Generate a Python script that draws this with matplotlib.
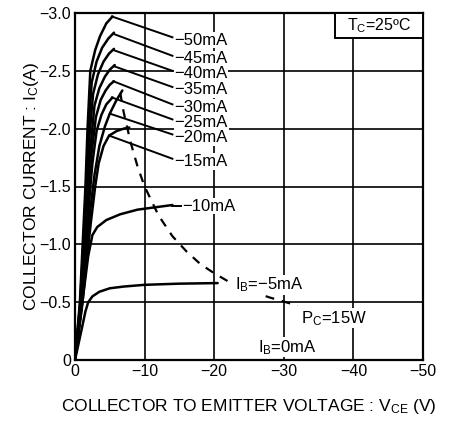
import matplotlib
matplotlib.use("Agg")
import matplotlib.pyplot as plt
from matplotlib.patches import Rectangle

plt.rcParams['font.family'] = ['Liberation Sans', 'DejaVu Sans']
plt.rcParams['mathtext.fontset'] = 'custom'
plt.rcParams['mathtext.rm'] = 'Liberation Sans'
plt.rcParams['mathtext.it'] = 'Liberation Sans'

# ---- data (V in volts, I in amperes) ----
ib_labels = ['−50mA', '−45mA', '−40mA', '−35mA', '−30mA', '−25mA', '−20mA', '−15mA']

v50 = [0, -0.7, -1.1, -1.5, -1.8, -2.2, -2.9, -3.6, -4.5, -5.4]
i50 = [0, -0.5, -1.0, -1.5, -2.0, -2.5, -2.68, -2.8, -2.91, -2.97]
v45 = [0, -0.75, -1.2, -1.6, -1.95, -2.4, -3.1, -3.9, -4.8, -5.6]
i45 = [0, -0.5, -1.0, -1.5, -2.0, -2.4, -2.58, -2.7, -2.78, -2.83]
v40 = [0, -0.8, -1.25, -1.7, -2.1, -2.6, -3.3, -4.1, -4.9, -5.6]
i40 = [0, -0.5, -1.0, -1.5, -1.95, -2.3, -2.47, -2.58, -2.65, -2.69]
v35 = [0, -0.85, -1.3, -1.8, -2.25, -2.8, -3.5, -4.3, -5.0, -5.7]
i35 = [0, -0.5, -1.0, -1.45, -1.85, -2.2, -2.35, -2.45, -2.51, -2.55]
v30 = [0, -0.9, -1.4, -1.9, -2.4, -3.0, -3.7, -4.4, -5.0, -5.6]
i30 = [0, -0.5, -0.95, -1.4, -1.8, -2.1, -2.25, -2.33, -2.38, -2.41]
v25 = [0, -0.95, -1.5, -2.0, -2.5, -3.1, -3.8, -4.5, -5.4]
i25 = [0, -0.5, -0.95, -1.35, -1.7, -1.98, -2.12, -2.21, -2.27]
v20 = [0, -1.0, -1.6, -2.2, -2.8, -3.5, -4.3, -5.0, -5.9, -6.8]
i20 = [0, -0.5, -0.93, -1.3, -1.6, -1.85, -2.02, -2.13, -2.24, -2.33]
v15 = [0, -1.05, -1.7, -2.3, -2.9, -3.4, -4.1, -4.9, -6.0, -7.0, -7.8]
i15 = [0, -0.48, -0.88, -1.2, -1.5, -1.7, -1.85, -1.94, -1.98, -2.0, -2.01]
v10 = [0, -1.1, -1.9, -2.5, -3.2, -4.5, -6.5, -9.0, -11.5, -14.0]
i10 = [0, -0.52, -0.9, -1.08, -1.15, -1.21, -1.26, -1.3, -1.32, -1.34]
v5 = [0, -0.9, -1.5, -1.9, -2.5, -3.5, -5.0, -7.0, -10.0, -15.0, -20.5]
i5 = [0, -0.25, -0.42, -0.5, -0.55, -0.59, -0.62, -0.635, -0.65, -0.66, -0.665]
v0 = [0, -30]
i0 = [0, 0]

# Pc = 15 W dissipation limit
v_pc = [-6.5, -7, -8, -9, -10, -12, -14, -16, -18, -20, -22, -25, -28, -32]
i_pc = [-2.31, -2.14, -1.88, -1.67, -1.5, -1.25, -1.07, -0.94, -0.83, -0.75, -0.68, -0.6, -0.54, -0.47]

# leader line start points (on curves) and label anchor points
lead_v = [-5.3, -5.5, -5.5, -5.6, -5.5, -5.3, -5.0, -4.9]
lead_i = [-2.97, -2.82, -2.68, -2.54, -2.41, -2.27, -2.13, -1.94]
lab_v = [-14.0] * 8
lab_i = [-2.79, -2.63, -2.50, -2.36, -2.21, -2.08, -1.95, -1.74]

x_ticks = [0, -10, -20, -30, -40, -50]
x_ticklabels = ['0', '−10', '−20', '−30', '−40', '−50']
y_ticks = [0, -0.5, -1.0, -1.5, -2.0, -2.5, -3.0]
y_ticklabels = ['0', '−0.5', '−1.0', '−1.5', '−2.0', '−2.5', '−3.0']

# ---- figure ----
fig = plt.figure(figsize=(4.58, 4.21), dpi=100)
ax = fig.add_axes([75/458, 61/421, 348/458, 347/421])

ax.set_xlim(0, -50)
ax.set_ylim(0, -3.0)
ax.set_xticks(x_ticks)
ax.set_xticklabels(x_ticklabels, fontsize=11.5)
ax.set_yticks(y_ticks)
ax.set_yticklabels(y_ticklabels, fontsize=11.5)
ax.tick_params(length=0, pad=3)
ax.grid(True, color='black', linewidth=1.2, zorder=0)
for s in ax.spines.values():
    s.set_linewidth(1.6)

curves = [(v50, i50), (v45, i45), (v40, i40), (v35, i35), (v30, i30),
          (v25, i25), (v20, i20), (v15, i15), (v10, i10), (v5, i5), (v0, i0)]
for v, i in curves:
    ax.plot(v, i, color='black', linewidth=1.8, solid_capstyle='round', zorder=3)

ax.plot(v_pc, i_pc, color='black', linewidth=1.6, linestyle=(0, (4, 3.5)), zorder=3)

for k in range(len(ib_labels)):
    ax.plot([lead_v[k], lab_v[k]], [lead_i[k], lab_i[k]], color='black', linewidth=1.4, zorder=3)
    ax.text(lab_v[k] - 0.3, lab_i[k] + 0.025, ib_labels[k], fontsize=12, ha='left', va='center',
            zorder=4, bbox=dict(facecolor='white', edgecolor='none', pad=0.5))

box = dict(facecolor='white', edgecolor='none', pad=0.5)
ax.plot([-14.0, -15.2], [-1.335, -1.335], color='black', linewidth=1.4, zorder=3)
ax.text(-15.4, -1.33, '−10mA', fontsize=12, ha='left', va='center', zorder=4, bbox=box)
ax.text(-23.0, -0.65, r'I$_{\rm B}$=−5mA', fontsize=12, ha='left', va='center', zorder=4, bbox=box)
ax.text(-32.4, -0.36, r'P$_{\rm C}$=15W', fontsize=12, ha='left', va='center', zorder=4, bbox=box)
ax.text(-30.5, -0.11, r'I$_{\rm B}$=0mA', fontsize=12, ha='center', va='center', zorder=4, bbox=box)

ax.add_patch(Rectangle((0.747, 0.928), 0.253, 0.072, transform=ax.transAxes,
                       facecolor='white', edgecolor='black', linewidth=1.4, zorder=5))
ax.text(0.873, 0.963, r'T$_{\rm C}$=25ºC', transform=ax.transAxes, fontsize=11.5,
        ha='center', va='center', zorder=6)

ax.set_xlabel(r'COLLECTOR TO EMITTER VOLTAGE : V$_{\rm CE}$ (V)', fontsize=12.5, labelpad=13)
ax.set_ylabel(r'COLLECTOR CURRENT : I$_{\rm C}$(A)', fontsize=12.5, labelpad=-1)

fig.savefig('out.png', dpi=100)
